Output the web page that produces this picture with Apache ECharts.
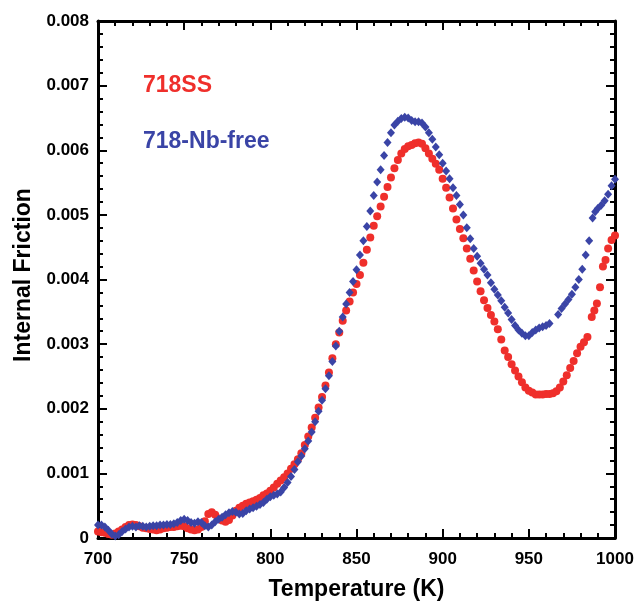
<!DOCTYPE html>
<html>
<head>
<meta charset="utf-8">
<script src="https://cdn.jsdelivr.net/npm/echarts@6/dist/echarts.min.js"></script>
<style>
html,body{margin:0;padding:0;background:#fff;}
#chart{width:637px;height:605px;}
</style>
</head>
<body>
<div id="chart"></div>
<script>
// Temperature (K) and internal friction (in units of 1e-3)
const redT = [700,702,704,706,708,710,712,714,716,718,720,722,724,726,728,730,732,734,736,738,740,742,744,746,748,750,752,754,756,758,760,762,764,766,768,770,772,774,776,778,780,782,784,786,788,790,792,794,796,798,800,802,804,806,808,810,812,814,816,818,820,822,824,826,828,830,832,834,836,838,840,842,844,846,848,850,852,854,856,858,860,862,864,866,868,870,872,874,876,878,880,882,884,886,888,890,892,894,896,898,900,902,904,906,908,910,912,914,916,918,920,922,924,926,928,930,932,934,936,938,940,942,944,946,948,950,952,954,956,958,960,962,964,966,968,970,972,974,976,978,980,982,984,986.5,988,989.5,991.3,993,994.5,996,998,1000];
const redV = [0.10,0.09,0.08,0.06,0.05,0.07,0.10,0.13,0.17,0.20,0.21,0.20,0.18,0.16,0.15,0.14,0.13,0.12,0.13,0.15,0.16,0.17,0.17,0.18,0.19,0.18,0.15,0.13,0.12,0.13,0.17,0.26,0.37,0.40,0.36,0.30,0.27,0.25,0.28,0.35,0.42,0.47,0.50,0.53,0.55,0.57,0.59,0.62,0.66,0.69,0.73,0.78,0.84,0.89,0.94,1.00,1.07,1.14,1.22,1.31,1.44,1.57,1.71,1.86,2.02,2.18,2.36,2.56,2.78,3.00,3.18,3.36,3.52,3.66,3.80,3.93,4.07,4.26,4.46,4.65,4.83,4.98,5.13,5.28,5.43,5.58,5.72,5.85,5.95,6.02,6.06,6.08,6.11,6.12,6.10,6.03,5.95,5.87,5.79,5.70,5.56,5.42,5.27,5.10,4.93,4.78,4.64,4.48,4.32,4.14,3.97,3.82,3.68,3.56,3.45,3.35,3.23,3.07,2.90,2.80,2.69,2.59,2.50,2.41,2.33,2.28,2.25,2.22,2.22,2.22,2.23,2.23,2.24,2.27,2.33,2.42,2.52,2.63,2.74,2.86,2.96,3.03,3.11,3.42,3.52,3.63,3.88,4.20,4.30,4.48,4.61,4.68];

const blueT = [700,702,704,706,708,710,712,714,716,718,720,722,724,726,728,730,732,734,736,738,740,742,744,746,748,750,752,754,756,758,760,762,764,766,768,770,772,774,776,778,780,782,784,786,788,790,792,794,796,798,800,802,804,806,808,810,812,814,816,818,820,822,824,826,828,830,832,834,836,838,840,842,844,846,848,850,852,854,856,858,860,862,864,866,868,870,872,874,876,878,880,882,884,886,888,890,892,894,896,898,900,902,904,906,908,910,912,914,916,918,920,922,924,926,928,930,932,934,936,938,940,942,944,946,948,950,952,954,956,958,960,962,967,969,971,973,975,977,979,981,983,985,987,988.5,990,992,994,996,998,1000];
const blueV = [0.20,0.20,0.17,0.12,0.06,0.03,0.05,0.10,0.14,0.17,0.18,0.17,0.19,0.18,0.17,0.18,0.19,0.19,0.20,0.20,0.21,0.21,0.22,0.24,0.27,0.29,0.27,0.24,0.23,0.25,0.24,0.19,0.17,0.20,0.25,0.29,0.32,0.36,0.39,0.41,0.40,0.37,0.38,0.42,0.45,0.47,0.49,0.52,0.55,0.60,0.64,0.66,0.68,0.71,0.78,0.86,0.95,1.06,1.18,1.27,1.38,1.50,1.64,1.80,1.96,2.13,2.31,2.51,2.73,2.97,3.20,3.42,3.62,3.80,3.97,4.15,4.38,4.60,4.82,5.06,5.30,5.51,5.70,5.92,6.12,6.27,6.39,6.45,6.49,6.51,6.50,6.46,6.44,6.44,6.42,6.36,6.27,6.17,6.05,5.93,5.80,5.68,5.56,5.42,5.30,5.16,5.00,4.80,4.63,4.48,4.36,4.25,4.16,4.07,3.95,3.85,3.76,3.67,3.57,3.48,3.38,3.29,3.22,3.17,3.13,3.13,3.18,3.22,3.25,3.27,3.29,3.32,3.46,3.55,3.62,3.69,3.77,3.88,4.00,4.16,4.38,4.60,4.95,5.05,5.10,5.15,5.22,5.32,5.45,5.55];

const seriesNames = ['718SS', '718-Nb-free'];
const seriesColors = ['#ef2f2b', '#3a44a6'];
const xTicks = [700, 750, 800, 850, 900, 950, 1000];
const yTicks = ['0', '0.001', '0.002', '0.003', '0.004', '0.005', '0.006', '0.007', '0.008'];

const redData = redT.map((t, i) => [t, redV[i] / 1000]);
const blueData = blueT.map((t, i) => [t, blueV[i] / 1000]);

const FONT = '"Liberation Sans", Arial, Helvetica, sans-serif';
const axisLineStyle = { color: '#000', width: 3 };

function xAxisBase(extra) {
  return Object.assign({
    type: 'value', min: xTicks[0], max: xTicks[xTicks.length - 1], interval: 50,
    axisLine: { show: true, onZero: false, lineStyle: axisLineStyle },
    axisTick: { show: true, inside: true, length: 9, lineStyle: { color: '#000', width: 2 } },
    minorTick: { show: true, splitNumber: 5, length: 5, lineStyle: { color: '#000', width: 2 } },
    splitLine: { show: false }, minorSplitLine: { show: false }
  }, extra);
}
function yAxisBase(extra) {
  return Object.assign({
    type: 'value', min: 0, max: 0.008, interval: 0.001,
    axisLine: { show: true, onZero: false, lineStyle: axisLineStyle },
    axisTick: { show: true, inside: true, length: 9, lineStyle: { color: '#000', width: 2 } },
    minorTick: { show: true, splitNumber: 5, length: 5, lineStyle: { color: '#000', width: 2 } },
    splitLine: { show: false }, minorSplitLine: { show: false }
  }, extra);
}

const chart = echarts.init(document.getElementById('chart'), null, { renderer: 'canvas' });
chart.setOption({
  backgroundColor: '#fff',
  animation: false,
  grid: { left: 98, right: 22, top: 21, bottom: 67, containLabel: false, outerBoundsMode: 'none' },
  xAxis: [
    xAxisBase({
      position: 'bottom',
      axisLabel: { show: true, margin: 13, color: '#000', fontSize: 17, fontWeight: 'bold', fontFamily: FONT,
        formatter: v => String(v) },
      name: 'Temperature (K)', nameLocation: 'middle', nameGap: 40,
      nameTextStyle: { color: '#000', fontSize: 23, fontWeight: 'bold', fontFamily: FONT }
    }),
    xAxisBase({ position: 'top', axisLabel: { show: false } })
  ],
  yAxis: [
    yAxisBase({
      position: 'left',
      axisLabel: { show: true, margin: 9, color: '#000', fontSize: 17, fontWeight: 'bold', fontFamily: FONT,
        formatter: v => yTicks[Math.round(v * 1000)] },
      name: 'Internal Friction', nameLocation: 'middle', nameGap: 61,
      nameTextStyle: { color: '#000', fontSize: 23, fontWeight: 'bold', fontFamily: FONT, padding: [0, 0, 0, 9] }
    }),
    yAxisBase({ position: 'right', axisLabel: { show: false } })
  ],
  graphic: [
    { type: 'text', left: 143, top: 74, style: { text: seriesNames[0], fill: seriesColors[0], font: 'bold 23px ' + FONT } },
    { type: 'text', left: 143, top: 130, style: { text: seriesNames[1], fill: seriesColors[1], font: 'bold 23px ' + FONT } }
  ],
  series: [
    { name: seriesNames[0], type: 'scatter', xAxisIndex: 0, yAxisIndex: 0, data: redData,
      symbol: 'circle', symbolSize: 8, itemStyle: { color: seriesColors[0], opacity: 1 } },
    { name: seriesNames[1], type: 'scatter', xAxisIndex: 0, yAxisIndex: 0, data: blueData,
      symbol: 'diamond', symbolSize: [8, 9], itemStyle: { color: seriesColors[1], opacity: 1 } }
  ]
});
</script>
</body>
</html>
